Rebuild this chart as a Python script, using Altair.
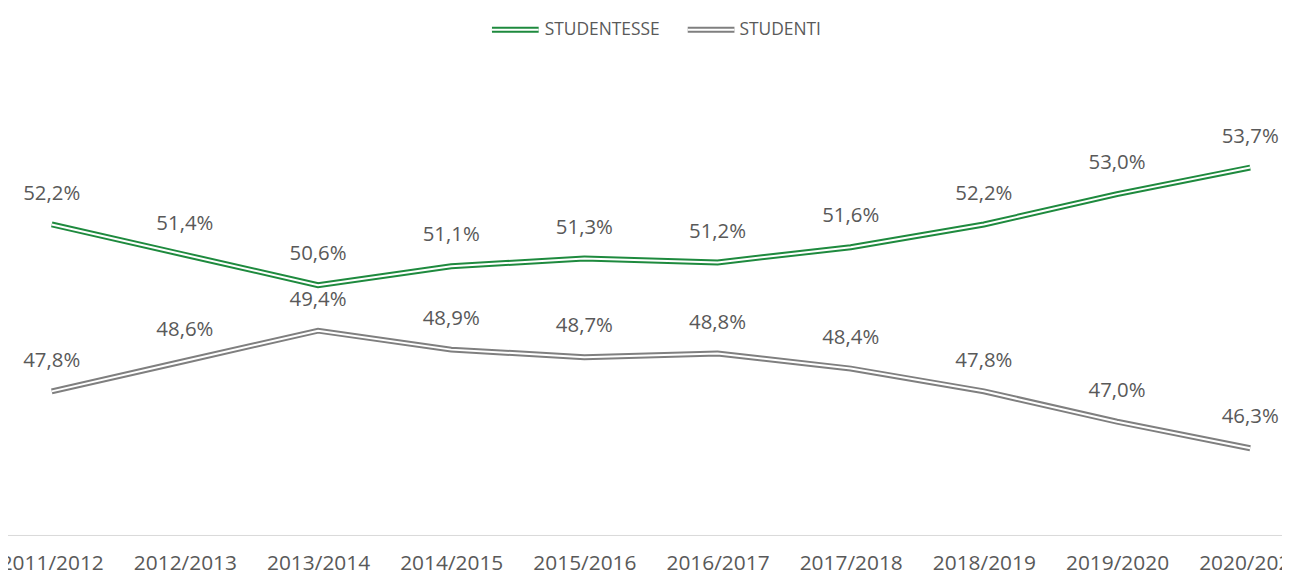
import altair as alt
import pandas as pd

anni = ["2011/2012", "2012/2013", "2013/2014", "2014/2015", "2015/2016",
        "2016/2017", "2017/2018", "2018/2019", "2019/2020", "2020/2021"]
studentesse = [52.2, 51.4, 50.6, 51.1, 51.3, 51.2, 51.6, 52.2, 53.0, 53.7]
studenti = [47.8, 48.6, 49.4, 48.9, 48.7, 48.8, 48.4, 47.8, 47.0, 46.3]
serie = ["STUDENTESSE", "STUDENTI"]
colori = ["#1E8A3E", "#7F7F7F"]

rows = []
for s, vals in zip(serie, [studentesse, studenti]):
    for a, v in zip(anni, vals):
        rows.append({"anno": a, "serie": s, "valore": v,
                     "etichetta": f"{v:.1f}".replace(".", ",") + "%"})
df = pd.DataFrame(rows)

FONT = "Open Sans"
TXT = "#595959"

x = alt.X("anno:N", sort=anni, title=None,
          scale=alt.Scale(type="point", padding=0),
          axis=alt.Axis(domain=False, ticks=False, grid=False, labelAngle=0,
                        labelFont=FONT, labelFontSize=21, labelColor=TXT,
                        labelBaseline="middle", labelPadding=28,
                        labelOverlap=False))
y = alt.Y("valore:Q", scale=alt.Scale(domain=[44, 56], nice=False, zero=False),
          axis=None)
col = alt.Color("serie:N", scale=alt.Scale(domain=serie, range=colori), legend=None)

base = alt.Chart(df)

baseline = alt.Chart(pd.DataFrame({"k": [0]})).mark_rule(
    color="#D9D9D9", strokeWidth=1).encode(
    x=alt.value(-52), x2=alt.value(1238), y=alt.value(458))

outer = base.mark_line(strokeWidth=6, strokeCap="butt").encode(
    x=x, y=y, color=col, detail="serie:N")
inner = base.mark_line(strokeWidth=2, strokeCap="butt", color="white").encode(
    x=x, y=y, detail="serie:N")

labels = base.mark_text(font=FONT, fontSize=20.5, color=TXT, dy=-31,
                        baseline="middle", align="center").encode(
    x=x, y=y, text="etichetta:N")

# legend (manual, to reproduce the double-line symbol)
leg_x0 = [443, 640]
leg_x1 = [490, 687]
leg_tx = [496, 692]
leg_layers = []
for i, s in enumerate(serie):
    d = pd.DataFrame({"serie": [s]})
    leg_layers.append(alt.Chart(d).mark_rule(strokeWidth=6, color=colori[i], strokeCap="butt").encode(
        x=alt.value(leg_x0[i]), x2=alt.value(leg_x1[i]), y=alt.value(-51)))
    leg_layers.append(alt.Chart(d).mark_rule(strokeWidth=2, color="white", strokeCap="butt").encode(
        x=alt.value(leg_x0[i]), x2=alt.value(leg_x1[i]), y=alt.value(-51)))
    leg_layers.append(alt.Chart(d).mark_text(font=FONT, fontSize=17.5, color=TXT,
                                             align="left", baseline="middle").encode(
        x=alt.value(leg_tx[i]), y=alt.value(-51), text="serie:N"))

chart = alt.layer(baseline, outer, inner, labels, *leg_layers).properties(
    width=1206, height=458,
    padding={"left": 44, "top": 71, "right": 32, "bottom": 40},
    autosize=alt.AutoSizeParams(type="none"),
    background="white",
).configure_view(stroke=None)

chart.save("out.html", embed_options={"renderer": "svg", "actions": False})
